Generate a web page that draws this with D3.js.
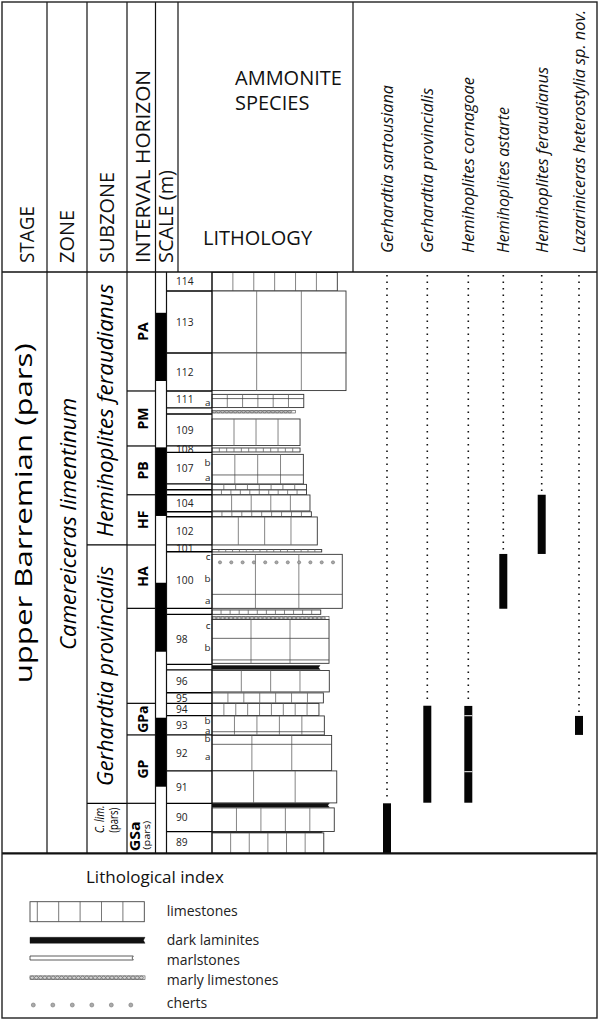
<!DOCTYPE html>
<html><head><meta charset="utf-8">
<script src="https://cdn.jsdelivr.net/npm/d3@7/dist/d3.min.js"></script>
<style>
html,body{margin:0;padding:0;background:#fff;}
svg{display:block;font-family:"Open Sans","Noto Sans",sans-serif;}
</style></head>
<body>
<svg id="chart" width="598" height="1020"></svg>
<script>
// ---------------- DATA ----------------
const headerLabels = ["STAGE","ZONE","SUBZONE","INTERVAL HORIZON","SCALE (m)"];
const stageLabel = "upper Barremian (pars)";
const stageLabelAt = 17.0;          // m, label anchor
const zoneLabel = "Camereiceras limentinum";
const zoneLabelAt = 16.47;          // m, label anchor
const subzoneNames = ["Hemihoplites feraudianus","Gerhardtia provincialis","C. lim."];
const subzoneTops = [29.07, 15.42, 2.5];
const intervalNames = ["PA","PM","PB","HF","HA","","GPa","GP","GSa"];
const intervalTops = [29.07,23.12,20.37,17.93,15.42,12.25,7.5,5.92,2.5];
const bedNames = ["114","113","112","111","110","109","108","107","106","105","104","103","102","101","100","99","98","97","96","95","94","93","92","91","90","89"];
const bedTops = [29.07,28.12,25.02,23.12,22.28,21.97,20.37,20.05,18.47,18.18,17.93,17.08,16.83,15.42,15.08,12.25,11.95,9.45,9.17,8.03,7.5,6.88,5.92,4.12,2.5,1.08];
const unlabelledBeds = ["110","106","105","103","99","97"];
const subBedLabels = ["a","b","a","c","b","a","c","b","b","a","b","a"];
const subBedLevels = [22.54,19.53,18.8,14.83,13.75,12.63,11.37,10.28,6.62,6.13,5.73,4.83];
const horizonTops = [27.03,20.3,13.53,6.78];
const horizonBases = [23.62,16.87,10.08,3.33];
// [type, top (m), base (m), relative resistance, blocks]
const lithoUnits = [
  ["limestone",29.05,28.12,0.908,6],
  ["limestone",28.12,25.02,0.971,3],
  ["limestone",25.02,23.14,0.971,3],
  ["limestone",22.95,22.29,0.665,6],
  ["marly",22.14,22.02,0.605,0],
  ["limestone",21.72,20.39,0.638,4],
  ["limestone",20.27,20.07,0.638,12],
  ["limestone",19.95,18.47,0.662,4],
  ["limestone",18.45,18.17,0.685,8],
  ["limestone",18.17,17.93,0.685,10],
  ["limestone",17.92,17.12,0.71,5],
  ["limestone",17.08,16.84,0.72,10],
  ["limestone",16.82,15.42,0.763,4],
  ["limestone",15.19,15.07,0.795,16],
  ["limestone",14.95,12.25,0.944,3],
  ["limestone",12.17,11.95,0.788,12],
  ["marly",11.84,11.69,0.848,0],
  ["limestone",11.69,9.5,0.848,3],
  ["laminite",9.39,9.19,0.783,0],
  ["limestone",9.14,8.07,0.85,4],
  ["limestone",8.02,7.52,0.807,7],
  ["limestone",7.49,6.89,0.775,9],
  ["limestone",6.87,5.92,0.814,5],
  ["limestone",5.89,4.14,0.867,3],
  ["limestone",4.12,2.52,0.904,3],
  ["laminite",2.5,2.3,0.85,0],
  ["limestone",2.27,1.09,0.886,5],
  ["laminite",1.08,1.02,0.8,0],
  ["limestone",1.02,0.0,0.81,6]
];
const beddingPlanes = [22.74,18.92,12.95,10.75,9.67,6.08,5.45];
const chertLevels = [14.55];
const species = ["Gerhardtia sartousiana","Gerhardtia provincialis","Hemihoplites cornagoae","Hemihoplites astarte","Hemihoplites feraudianus","Lazariniceras heterostylia sp. nov."];
const rangeTops = [2.5,7.38,7.37,14.97,17.93,6.87];
const rangeBases = [0,2.53,2.53,12.23,14.97,5.92];
const rangeBreaks = [[],[],[6.88,4.08],[],[],[]];
const sectionTop = 29.07;
const legendTitle = "Lithological index";
const legendItems = ["limestones","dark laminites","marlstones","marly limestones","cherts"];
const legendTypes = ["limestone","laminite","marlstone","marly","chert"];

// ---------------- LAYOUT ----------------
const svg = d3.select("#chart");
const yBase = 853.3, yTop = 272;
const y = d3.scaleLinear().domain([0, sectionTop]).range([yBase, yTop]);
const xL = d3.scaleLinear().domain([0,1]).range([212,350]);
const xs = d3.scaleOrdinal().domain(species).range([387,427.3,468.3,503.3,541.7,579]);
const speciesLen = d3.scaleOrdinal().domain(species).range([168,165,176,146,186,243]);
const headLen = d3.scaleOrdinal().domain(headerLabels).range([57,53,91,193,93]);
const bodyCols = [47,87,127,155.5,166.5,212];
const headCols = [47,87,127,155.5,178,353];

svg.append("rect").attr("width",598).attr("height",1020).attr("fill","#fff");

// ---------- Lithology ----------
const lith = svg.append("g");
function drawMarly(g, x0, x1, y0, y1){
  g.append("rect").attr("x",x0).attr("y",y0).attr("width",x1-x0).attr("height",y1-y0)
   .attr("fill","#fff").attr("stroke","#444").attr("stroke-width",0.6);
  const ry = Math.max((y1-y0)/2-0.2,0.8);
  for(let xx=x0+2.2; xx<x1-1.5; xx+=4.2){
    g.append("ellipse").attr("cx",xx).attr("cy",(y0+y1)/2).attr("rx",2).attr("ry",ry)
     .attr("fill","#d4d4d4").attr("stroke","#444").attr("stroke-width",0.6);
  }
}
function drawLaminite(g, x0, x1, y0, y1){
  const ym=(y0+y1)/2;
  g.append("path").attr("d",`M${x0},${y0}L${x1},${y0}L${x1-1.5},${ym}L${x1},${y1}L${x0},${y1}Z`)
   .attr("fill","#111").attr("stroke","#111").attr("stroke-width",0.4);
}
function drawLime(g, x0, x1, y0, y1, blocks){
  g.append("rect").attr("x",x0).attr("y",y0).attr("width",x1-x0).attr("height",y1-y0)
   .attr("fill","#fff").attr("stroke","#333").attr("stroke-width",0.9);
  for(let i=1;i<blocks;i++){
    const xx = x0 + i*(x1-x0)/blocks;
    g.append("line").attr("x1",xx).attr("x2",xx).attr("y1",y0).attr("y2",y1)
     .attr("stroke","#666").attr("stroke-width",0.8);
  }
}
lithoUnits.forEach(([type, top, base, res, blocks])=>{
  const y0=y(top), y1=y(base), x0=xL(0), x1=xL(res);
  if(type==="limestone") drawLime(lith,x0,x1,y0,y1,blocks);
  else if(type==="laminite") drawLaminite(lith,x0,x1,y0,y1);
  else if(type==="marly") drawMarly(lith,x0,x1,y0,y1);
});
function unitAt(level){ return lithoUnits.find(u=>u[1]>=level && u[2]<=level); }
beddingPlanes.forEach(lev=>{
  const u=unitAt(lev); if(!u) return;
  lith.append("line").attr("x1",xL(0)).attr("x2",xL(u[3])).attr("y1",y(lev)).attr("y2",y(lev))
   .attr("stroke","#444").attr("stroke-width",0.8);
});
chertLevels.forEach(lev=>{
  const u=unitAt(lev); if(!u) return;
  for(let xx=xL(0)+8; xx<xL(u[3])-6; xx+=11.3){
    lith.append("circle").attr("cx",xx).attr("cy",y(lev)).attr("r",1.6)
      .attr("fill","#a8a8a8").attr("stroke","#666").attr("stroke-width",0.5);
  }
});

// ---------- Scale column (beds) ----------
const scaleG = svg.append("g");
bedTops.forEach((t,i)=>{
  if(i>0) scaleG.append("line").attr("x1",bodyCols[4]).attr("x2",bodyCols[5]).attr("y1",y(t)).attr("y2",y(t))
    .attr("stroke","#000").attr("stroke-width",1.3);
  const b = i<bedTops.length-1 ? bedTops[i+1] : 0;
  if(!unlabelledBeds.includes(bedNames[i])){
    scaleG.append("text").attr("x",176).attr("y",(y(t)+y(b))/2).attr("dy","0.36em")
      .attr("font-size",10.2).attr("fill","#222").text(bedNames[i]);
  }
});
subBedLabels.forEach((l,i)=>{
  scaleG.append("text").attr("x",210.5).attr("y",y(subBedLevels[i])).attr("dy","0.34em")
    .attr("text-anchor","end").attr("font-size",9.8).attr("fill","#222").text(l);
});

// ---------- Horizon bar ----------
horizonTops.forEach((t,i)=>{
  svg.append("rect").attr("x",bodyCols[3]).attr("y",y(t)).attr("width",bodyCols[4]-bodyCols[3])
    .attr("height",y(horizonBases[i])-y(t)).attr("fill","#000");
});

// ---------- Intervals ----------
intervalTops.forEach((t,i)=>{
  if(i>0) svg.append("line").attr("x1",bodyCols[2]).attr("x2",bodyCols[3]).attr("y1",y(t)).attr("y2",y(t))
    .attr("stroke","#000").attr("stroke-width",1.2);
  const b = i<intervalTops.length-1 ? intervalTops[i+1] : 0;
  const cy=(y(t)+y(b))/2;
  if(intervalNames[i]==="GSa"){
    svg.append("text").attr("transform",`translate(140,${cy+8}) rotate(-90)`).attr("text-anchor","middle")
      .attr("font-size",14).attr("font-weight","bold").attr("textLength",30).attr("lengthAdjust","spacingAndGlyphs").text("GSa");
    svg.append("text").attr("transform",`translate(149.5,${cy+7}) rotate(-90)`).attr("text-anchor","middle")
      .attr("font-size",8.5).attr("textLength",29).attr("lengthAdjust","spacingAndGlyphs").text("(pars)");
  } else if(intervalNames[i]){
    svg.append("text").attr("transform",`translate(148,${cy}) rotate(-90)`).attr("text-anchor","middle")
      .attr("font-size",14).attr("font-weight","bold").text(intervalNames[i]);
  }
});

// ---------- Subzones ----------
const subzoneLen = [253,220,28];
subzoneTops.forEach((t,i)=>{
  if(i>0) svg.append("line").attr("x1",bodyCols[1]).attr("x2",bodyCols[2]).attr("y1",y(t)).attr("y2",y(t))
    .attr("stroke","#000").attr("stroke-width",1.2);
  const b = i<subzoneTops.length-1 ? subzoneTops[i+1] : 0;
  const cy=(y(t)+y(b))/2;
  if(subzoneNames[i]==="C. lim."){
    svg.append("text").attr("transform",`translate(104,${cy-9}) rotate(-90)`).attr("text-anchor","middle")
      .attr("font-size",12.5).attr("font-style","italic").attr("textLength",28).attr("lengthAdjust","spacingAndGlyphs").text("C. lim.");
    svg.append("text").attr("transform",`translate(117.5,${cy-8}) rotate(-90)`).attr("text-anchor","middle")
      .attr("font-size",12.5).attr("textLength",25).attr("lengthAdjust","spacingAndGlyphs").text("(pars)");
  } else {
    svg.append("text").attr("transform",`translate(113,${cy+2}) rotate(-90)`).attr("text-anchor","middle")
      .attr("font-size",21).attr("font-style","italic").attr("textLength",subzoneLen[i]).attr("lengthAdjust","spacingAndGlyphs").text(subzoneNames[i]);
  }
});

// ---------- Zone & Stage ----------
svg.append("text").attr("transform",`translate(75.5,${y(zoneLabelAt)}) rotate(-90)`).attr("text-anchor","middle")
  .attr("font-size",21.5).attr("font-style","italic").attr("textLength",252).attr("lengthAdjust","spacingAndGlyphs").text(zoneLabel);
svg.append("text").attr("transform",`translate(31.5,${y(stageLabelAt)}) rotate(-90)`).attr("text-anchor","middle")
  .attr("font-size",24).attr("textLength",340).attr("lengthAdjust","spacingAndGlyphs").text(stageLabel);

// ---------- Ammonite ranges ----------
species.forEach((s,i)=>{
  const x = xs(s);
  svg.append("line").attr("x1",x).attr("x2",x).attr("y1",y(sectionTop)+3).attr("y2",y(rangeTops[i])-2)
    .attr("stroke","#111").attr("stroke-width",1.6).attr("stroke-dasharray","1.5,5");
  svg.append("rect").attr("x",x-4).attr("width",8).attr("y",y(rangeTops[i]))
    .attr("height",y(rangeBases[i])-y(rangeTops[i])).attr("fill","#050505");
  rangeBreaks[i].forEach(b=>{
    svg.append("line").attr("x1",x-4).attr("x2",x+4).attr("y1",y(b)).attr("y2",y(b))
      .attr("stroke","#fff").attr("stroke-width",1);
  });
  svg.append("text").attr("transform",`translate(${x+6},253) rotate(-90)`)
    .attr("font-size",16.5).attr("font-style","italic").attr("fill","#111")
    .attr("textLength",speciesLen(s)).attr("lengthAdjust","spacingAndGlyphs").text(s);
});

// ---------- Header ----------
const headX = [33.5,74,113.5,150,172.7];
headerLabels.forEach((h,i)=>{
  svg.append("text").attr("transform",`translate(${headX[i]},263) rotate(-90)`)
    .attr("font-size",19.5).attr("fill","#111").attr("textLength",headLen(h)).attr("lengthAdjust","spacingAndGlyphs").text(h);
});
svg.append("text").attr("x",235).attr("y",85).attr("font-size",20).attr("fill","#111").text("AMMONITE");
svg.append("text").attr("x",235).attr("y",110).attr("font-size",20).attr("fill","#111").text("SPECIES");
svg.append("text").attr("x",203).attr("y",245).attr("font-size",20).attr("fill","#111").text("LITHOLOGY");

// ---------- Grid lines ----------
const lines = svg.append("g").attr("stroke","#111");
headCols.forEach(x=>lines.append("line").attr("x1",x).attr("x2",x).attr("y1",2).attr("y2",yTop).attr("stroke-width",1.2));
bodyCols.forEach(x=>lines.append("line").attr("x1",x).attr("x2",x).attr("y1",yTop).attr("y2",yBase).attr("stroke-width",1.2));
lines.append("line").attr("x1",2).attr("x2",597).attr("y1",yTop).attr("y2",yTop).attr("stroke-width",1.7);
lines.append("line").attr("x1",2).attr("x2",597).attr("y1",yBase).attr("y2",yBase).attr("stroke-width",2.2);
svg.append("rect").attr("x",2).attr("y",2).attr("width",595).attr("height",1016)
  .attr("fill","none").attr("stroke","#222").attr("stroke-width",1.4);

// ---------- Legend ----------
const lg = svg.append("g");
lg.append("text").attr("x",86).attr("y",883.3).attr("font-size",17).attr("fill","#111").text(legendTitle);
const ly = d3.scaleOrdinal().domain(legendItems).range([911.7,940.3,958,977.7,1005]);
const lyText = d3.scaleOrdinal().domain(legendItems).range([916,944.5,964.5,985,1007.7]);
legendItems.forEach((item,i)=>{
  const cy = ly(item), t = legendTypes[i];
  if(t==="limestone"){
    lg.append("rect").attr("x",30).attr("y",cy-10).attr("width",114.3).attr("height",20)
      .attr("fill","#fff").attr("stroke","#444").attr("stroke-width",0.9);
    for(let k=0;k<5;k++){ const xx=37.3+k*21.4;
      lg.append("line").attr("x1",xx).attr("x2",xx).attr("y1",cy-10).attr("y2",cy+10).attr("stroke","#555").attr("stroke-width",0.8); }
  } else if(t==="laminite"){
    drawLaminite(lg,30,145,cy-3,cy+3);
  } else if(t==="marlstone"){
    lg.append("path").attr("d",`M30,${cy-2}L133.3,${cy-2}L132,${cy}L133.3,${cy+2}L30,${cy+2}Z`)
      .attr("fill","#fff").attr("stroke","#333").attr("stroke-width",0.8);
  } else if(t==="marly"){
    drawMarly(lg,30,145,cy-1.8,cy+1.8);
  } else if(t==="chert"){
    for(let k=0;k<6;k++) lg.append("circle").attr("cx",33.3+k*19.5).attr("cy",cy).attr("r",2)
      .attr("fill","#aaa").attr("stroke","#777").attr("stroke-width",0.6);
  }
  lg.append("text").attr("x",166.7).attr("y",lyText(item)).attr("font-size",14).attr("fill","#222").text(item);
});
</script>
</body></html>
